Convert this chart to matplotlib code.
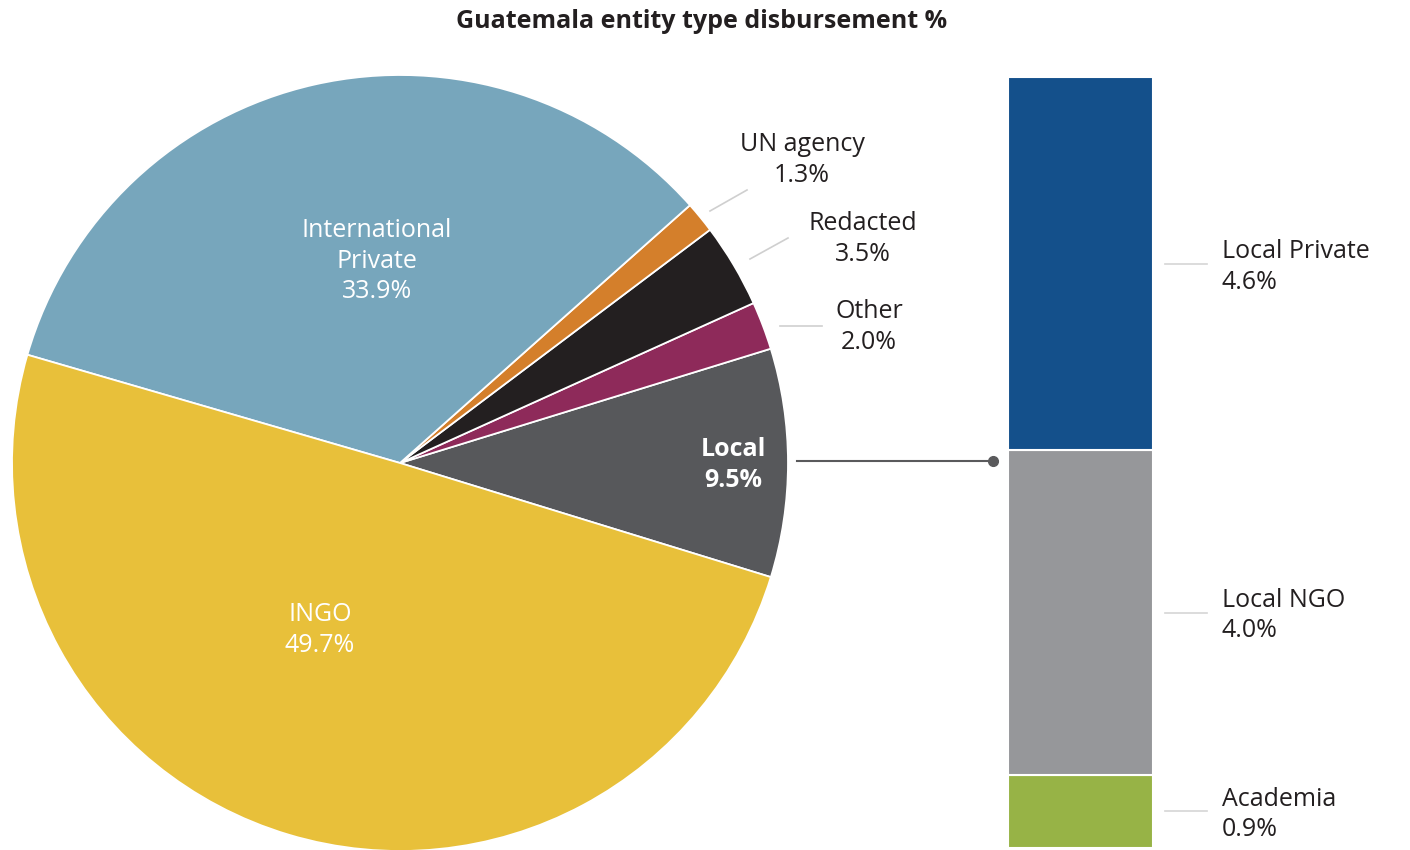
import numpy as np
import matplotlib.pyplot as plt

# pie slices, counterclockwise starting from Local
pie_names = ["Local", "Other", "Redacted", "UN agency", "International\nPrivate", "INGO"]
pie_values = [9.5, 2.0, 3.5, 1.3, 33.9, 49.7]
pie_colors = ["#57585B", "#8E2A5A", "#231F20", "#D47F2B", "#77A6BC", "#E8C03A"]

# breakdown of Local, bottom to top
bar_names = ["Academia", "Local NGO", "Local Private"]
bar_values = [0.9, 4.0, 4.6]
bar_colors = ["#97B346", "#96979A", "#14508B"]

plt.rcParams['font.family'] = ['Open Sans', 'DejaVu Sans']
txt = "#231F20"

fig = plt.figure(figsize=(14.1, 8.5), dpi=100)
ax = fig.add_axes([0, 0, 1, 1])

H = 850
cx, cy, R = 400, H - 463, 388
start = -pie_values[0] / 100 * 360 / 2
wedges, _ = ax.pie(pie_values, colors=pie_colors, center=(cx, cy), radius=R,
                   startangle=start, counterclock=True,
                   wedgeprops=dict(edgecolor="white", linewidth=1.3))

fs = 18
ls = 1.3
dy = 3  # nudge for the text baseline


def pct(v):
    return f"{v:.1f}%"


# labels inside the pie
ax.text(377, H - 258 - dy, f"{pie_names[4]}\n{pct(pie_values[4])}", ha="center", va="center",
        color="white", fontsize=fs, linespacing=ls)
ax.text(320, H - 627 - dy, f"{pie_names[5]}\n{pct(pie_values[5])}", ha="center", va="center",
        color="white", fontsize=fs, linespacing=ls)
ax.text(733, H - 462 - dy, f"{pie_names[0]}\n{pct(pie_values[0])}", ha="center", va="center",
        color="white", fontsize=fs, fontweight="bold", linespacing=ls)

# small slices labelled outside with leader lines
outside = [
    (3, (802, 157), (710, 211), (747, 190)),
    (2, (863, 236), (750, 259), (788, 238)),
    (1, (869, 324), (780, 326), (822, 326)),
]
for i, (tx, ty), (x0, y0), (x1, y1) in outside:
    ax.text(tx, H - ty - dy, f"{pie_names[i]}\n{pct(pie_values[i])}", ha="center", va="center",
            color=txt, fontsize=fs, linespacing=ls)
    ax.plot([x0, x1], [H - y0, H - y1], color="#CFCFCF", lw=1.2)

# stacked bar for the Local breakdown
scale = (848 - 77) / sum(bar_values)
bx, bw = 1080.5, 145
bottom = H - 848
for name, v, c in zip(bar_names, bar_values, bar_colors):
    h = v * scale
    ax.bar(bx, h, width=bw, bottom=bottom, color=c, edgecolor="white", linewidth=1.5)
    mid = bottom + h / 2
    ax.plot([1165, 1207], [mid, mid], color="#D5D5D5", lw=1.2)
    ax.text(1222, mid - dy, f"{name}\n{pct(v)}", ha="left", va="center",
            color=txt, fontsize=fs, linespacing=ls)
    bottom += h

# connector from Local slice to the bar
ax.plot([797, 993], [H - 461, H - 461], color="#5A5A5C", lw=1.5)
ax.plot([993], [H - 461], "o", color="#5A5A5C", ms=7)

ax.text(702, H - 21, "Guatemala entity type disbursement %", ha="center", va="center",
        color=txt, fontsize=18, fontweight="bold")

ax.set_xlim(0, 1410)
ax.set_ylim(0, H)
ax.set_aspect("equal")
ax.axis("off")

fig.savefig("out.png", dpi=100)
